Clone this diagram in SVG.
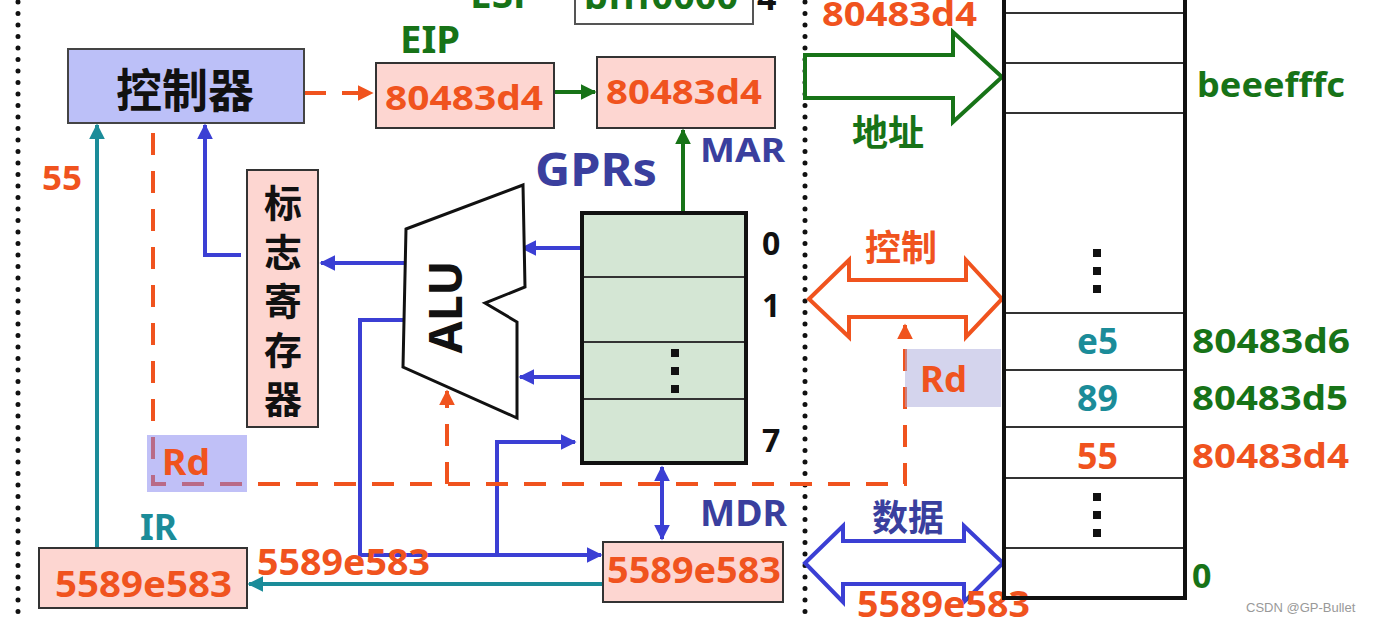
<svg xmlns="http://www.w3.org/2000/svg" width="1376" height="622" viewBox="0 0 1376 622">
<defs>
<style>
.t{font-family:"Noto Sans","Open Sans","Noto Sans CJK SC",sans-serif;font-weight:700;}
.c{font-family:"Noto Sans CJK SC","Noto Sans",sans-serif;font-weight:700;text-anchor:middle;dominant-baseline:central;}
.or{fill:#f0531e}.gr{fill:#177317}.bl{fill:#3a3f9e}.tl{fill:#1b8c99}.bk{fill:#111}
.box{fill:#fdd6d1;stroke:#333;stroke-width:2}
.dot{stroke:#111;stroke-width:5;stroke-linecap:round;stroke-dasharray:0 11.5;fill:none}
.ln{fill:none;stroke-width:4}
.bL{stroke:#3b3fd4}.gL{stroke:#177317}.tL{stroke:#1b8c99}.oL{stroke:#f0531e;stroke-dasharray:22 16}
.row{stroke:#333;stroke-width:2}
.sq{fill:#111}
.vert{font-family:"Noto Sans CJK SC",sans-serif;font-weight:700;writing-mode:vertical-rl;letter-spacing:11px;}
</style>
<marker id="aB" viewBox="0 0 10 10" refX="9" refY="5" markerWidth="16" markerHeight="16" markerUnits="userSpaceOnUse" orient="auto-start-reverse"><path d="M0,0 L10,5 L0,10 z" fill="#3b3fd4"/></marker>
<marker id="aG" viewBox="0 0 10 10" refX="9" refY="5" markerWidth="16" markerHeight="16" markerUnits="userSpaceOnUse" orient="auto"><path d="M0,0 L10,5 L0,10 z" fill="#177317"/></marker>
<marker id="aT" viewBox="0 0 10 10" refX="9" refY="5" markerWidth="16" markerHeight="16" markerUnits="userSpaceOnUse" orient="auto"><path d="M0,0 L10,5 L0,10 z" fill="#1b8c99"/></marker>
<marker id="aO" viewBox="0 0 10 10" refX="9" refY="5" markerWidth="16" markerHeight="16" markerUnits="userSpaceOnUse" orient="auto"><path d="M0,0 L10,5 L0,10 z" fill="#f0531e"/></marker>
</defs>
<rect width="1376" height="622" fill="#fff"/>
<line class="dot" x1="18" y1="2" x2="18" y2="622"/>
<line class="dot" x1="805" y1="2" x2="805" y2="622"/>

<g id="esp">
<text class="t gr" x="470" y="8" font-size="38" textLength="67" lengthAdjust="spacingAndGlyphs">ESP</text>
<rect x="575" y="-10" width="178" height="34" fill="#fff" stroke="#555" stroke-width="2"/>
<text class="t gr" x="584" y="9" font-size="36" textLength="154" lengthAdjust="spacingAndGlyphs">bfff0000</text>
<text class="t bk" x="757" y="10" font-size="34">4</text>
</g>

<g id="connectors">
<path class="ln oL" d="M304,93 H372" marker-end="url(#aO)"/>
<path class="ln gL" d="M555,92 H595" marker-end="url(#aG)"/>
<path class="ln gL" d="M683,212 V130" marker-end="url(#aG)"/>
<path class="ln bL" d="M241,255 H205 V125" marker-end="url(#aB)"/>
<path class="ln bL" d="M404,263 H321" marker-end="url(#aB)"/>
<path class="ln bL" d="M582,248 H522" marker-end="url(#aB)"/>
<path class="ln bL" d="M582,377 H520" marker-end="url(#aB)"/>
<path class="ln bL" d="M403,320 H360 V555 H601" marker-end="url(#aB)"/>
<path class="ln bL" d="M497,555 V442 H575" marker-end="url(#aB)"/>
<path class="ln bL" d="M662,467 V539" marker-start="url(#aB)" marker-end="url(#aB)"/>
<path class="ln tL" d="M603,584 H249" marker-end="url(#aT)"/>
<path class="ln tL" d="M97,548 V125" marker-end="url(#aT)"/>
<path class="ln oL" d="M153,133 V484 H905 V325" marker-end="url(#aO)"/>
<path class="ln oL" d="M447,484 V391" marker-end="url(#aO)"/>
<g id="buses" fill="#fff" stroke-width="4" stroke-linejoin="miter">
<polygon points="805,55 953,55 953,32 1002,77 953,122 953,98 805,98" stroke="#177317"/>
<polygon points="809,299 849,260 849,280 966,280 966,260 1002,299 966,337 966,317 849,317 849,337" stroke="#f0531e"/>
<polygon points="805,563 843,526 843,541 964,541 964,526 1003,563 964,602 964,584 843,584 843,602" stroke="#3b3fd4"/>
</g>
</g>

<g id="controller">
<rect x="68" y="49" width="236" height="74" fill="#bcc0f8" stroke="#444" stroke-width="2"/>
<text class="c bk" x="185" y="87" font-size="46">控制器</text>
</g>

<g id="eip">
<text class="t gr" x="400" y="53" font-size="38" textLength="60" lengthAdjust="spacingAndGlyphs">EIP</text>
<rect class="box" x="376" y="63" width="178" height="65"/>
<text class="t or" x="385" y="110" font-size="34" textLength="158" lengthAdjust="spacingAndGlyphs">80483d4</text>
</g>

<g id="mar">
<rect class="box" x="597" y="57" width="178" height="71"/>
<text class="t or" x="606" y="104" font-size="34" textLength="156" lengthAdjust="spacingAndGlyphs">80483d4</text>
<text class="t bl" x="700" y="162" font-size="34" textLength="85" lengthAdjust="spacingAndGlyphs">MAR</text>
</g>

<g id="flags">
<rect class="box" x="247" y="170" width="71" height="257"/>
<text class="vert bk" x="283" y="184" font-size="38">标志寄存器</text>
</g>

<g id="alu">
<polygon points="406,229 523,185 525,287 485,303 517,322 517,418 403,367" fill="#fff" stroke="#111" stroke-width="3" stroke-linejoin="miter"/>
<text class="t bk" transform="translate(462,307) rotate(-90)" x="0" y="0" font-size="47" text-anchor="middle" textLength="93" lengthAdjust="spacingAndGlyphs">ALU</text>
</g>

<g id="gprs">
<text class="t bl" x="535" y="186" font-size="46" textLength="122" lengthAdjust="spacingAndGlyphs">GPRs</text>
<rect x="582" y="213" width="164" height="250" fill="#d4e6d4" stroke="#111" stroke-width="4"/>
<line class="row" x1="584" y1="277" x2="744" y2="277"/>
<line class="row" x1="584" y1="342" x2="744" y2="342"/>
<line class="row" x1="584" y1="399" x2="744" y2="399"/>
<rect class="sq" x="671" y="349" width="8" height="8"/>
<rect class="sq" x="671" y="367" width="8" height="8"/>
<rect class="sq" x="671" y="385" width="8" height="8"/>
<text class="t bk" x="762" y="255" font-size="32">0</text>
<text class="t bk" x="762" y="317" font-size="32">1</text>
<text class="t bk" x="762" y="452" font-size="32">7</text>
</g>

<g id="mdr">
<text class="t bl" x="700" y="526" font-size="36" textLength="87" lengthAdjust="spacingAndGlyphs">MDR</text>
<rect class="box" x="603" y="542" width="180" height="60"/>
<text class="t or" x="607" y="583" font-size="36" textLength="174" lengthAdjust="spacingAndGlyphs">5589e583</text>
</g>

<g id="ir">
<text class="t tl" x="140" y="540" font-size="36" textLength="37" lengthAdjust="spacingAndGlyphs">IR</text>
<rect class="box" x="39" y="548" width="208" height="60"/>
<text class="t or" x="55" y="597" font-size="36" textLength="177" lengthAdjust="spacingAndGlyphs">5589e583</text>
</g>

<g id="labels">
<text class="t or" x="42" y="190" font-size="34" textLength="40" lengthAdjust="spacingAndGlyphs">55</text>
<text class="t or" x="257" y="575" font-size="36" textLength="173" lengthAdjust="spacingAndGlyphs">5589e583</text>
<rect x="147" y="435" width="100" height="57" fill="#8282f0" fill-opacity="0.5"/>
<text class="t or" x="162" y="475" font-size="36" textLength="48" lengthAdjust="spacingAndGlyphs">Rd</text>
<rect x="905" y="349" width="96" height="58" fill="#aaaadc" fill-opacity="0.5"/>
<text class="t or" x="920" y="392" font-size="36" textLength="47" lengthAdjust="spacingAndGlyphs">Rd</text>
<text class="t or" x="822" y="26" font-size="34" textLength="155" lengthAdjust="spacingAndGlyphs">80483d4</text>
<text class="c gr" x="888" y="130" font-size="36">地址</text>
<text class="c or" x="901" y="245" font-size="36">控制</text>
<text class="c bl" x="908" y="515" font-size="36">数据</text>
<text class="t or" x="857" y="617" font-size="36" textLength="173" lengthAdjust="spacingAndGlyphs">5589e583</text>
</g>

<g id="memory">
<line x1="1004" y1="0" x2="1004" y2="600" stroke="#111" stroke-width="4"/>
<line x1="1185" y1="0" x2="1185" y2="600" stroke="#111" stroke-width="4"/>
<line x1="1002" y1="598" x2="1187" y2="598" stroke="#111" stroke-width="4"/>
<line class="row" x1="1006" y1="13" x2="1183" y2="13"/>
<line class="row" x1="1006" y1="63" x2="1183" y2="63"/>
<line class="row" x1="1006" y1="113" x2="1183" y2="113"/>
<line class="row" x1="1006" y1="313" x2="1183" y2="313"/>
<line class="row" x1="1006" y1="370" x2="1183" y2="370"/>
<line class="row" x1="1006" y1="427" x2="1183" y2="427"/>
<line class="row" x1="1006" y1="478" x2="1183" y2="478"/>
<line class="row" x1="1006" y1="548" x2="1183" y2="548"/>
<rect class="sq" x="1093" y="249" width="8" height="8"/>
<rect class="sq" x="1093" y="267" width="8" height="8"/>
<rect class="sq" x="1093" y="285" width="8" height="8"/>
<rect class="sq" x="1093" y="493" width="8" height="8"/>
<rect class="sq" x="1093" y="511" width="8" height="8"/>
<rect class="sq" x="1093" y="529" width="8" height="8"/>
<text class="t tl" x="1077" y="354" font-size="35" textLength="41" lengthAdjust="spacingAndGlyphs">e5</text>
<text class="t tl" x="1077" y="411" font-size="35" textLength="41" lengthAdjust="spacingAndGlyphs">89</text>
<text class="t or" x="1077" y="469" font-size="35" textLength="41" lengthAdjust="spacingAndGlyphs">55</text>
<text class="t gr" x="1197" y="97" font-size="34" textLength="148" lengthAdjust="spacingAndGlyphs">beeefffc</text>
<text class="t gr" x="1192" y="353" font-size="34" textLength="158" lengthAdjust="spacingAndGlyphs">80483d6</text>
<text class="t gr" x="1192" y="410" font-size="34" textLength="156" lengthAdjust="spacingAndGlyphs">80483d5</text>
<text class="t or" x="1192" y="468" font-size="34" textLength="157" lengthAdjust="spacingAndGlyphs">80483d4</text>
<text class="t gr" x="1192" y="588" font-size="34">0</text>
</g>

<text x="1246" y="612" font-family="Liberation Sans, sans-serif" font-size="13" fill="#999">CSDN @GP-Bullet</text>
</svg>
